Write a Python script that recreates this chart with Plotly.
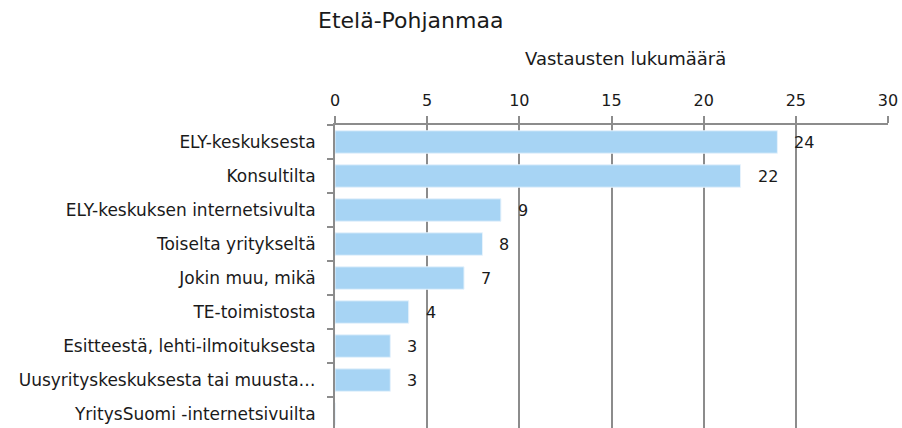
import plotly.graph_objects as go

# Data
categories = ['ELY-keskuksesta', 'Konsultilta', 'ELY-keskuksen internetsivulta',
              'Toiselta yritykseltä', 'Jokin muu, mikä', 'TE-toimistosta',
              'Esitteestä, lehti-ilmoituksesta',
              'Uusyrityskeskuksesta tai muusta…',
              'YritysSuomi -internetsivuilta']
counts = [24, 22, 9, 8, 7, 4, 3, 3, 0]
tick_values = [0, 5, 10, 15, 20, 25, 30]

font_name = 'DejaVu Sans'
grid_col = '#8c8c8c'
txt_col = '#1a1a1a'

W, H = 902, 428

fig = go.Figure()
fig.add_trace(go.Bar(
    x=counts,
    y=categories,
    orientation='h',
    width=0.66,
    marker=dict(color='#a7d4f4', line=dict(color='#e6f2fc', width=1)),
    hoverinfo='x+y',
))

# value labels next to the bar ends (zero is left unlabeled as in the original)
for c, v in zip(categories, counts):
    if v == 0:
        continue
    fig.add_annotation(x=v, y=c, text=str(v), showarrow=False,
                       xanchor='left', xshift=15,
                       font=dict(family=font_name, size=16, color=txt_col))

# axis title sits a bit right of the axis centre in the original
fig.add_annotation(text='Vastausten lukumäärä', xref='paper', yref='paper',
                   x=0.526, y=1, yshift=67, showarrow=False,
                   xanchor='center', yanchor='middle',
                   font=dict(family=font_name, size=18, color=txt_col))

fig.update_layout(
    width=W, height=H,
    margin=dict(l=335, r=14, t=125, b=0),
    paper_bgcolor='white', plot_bgcolor='white',
    showlegend=False,
    font=dict(family=font_name, size=16, color=txt_col),
    title=dict(text='Etelä-Pohjanmaa', x=318 / W, xanchor='left',
               xref='container', y=1 - 20 / H, yanchor='middle',
               pad=dict(l=0, r=0, t=0, b=0),
               font=dict(family=font_name, size=22, color=txt_col)),
)

fig.update_xaxes(
    side='top', range=[0, 30], tickvals=tick_values,
    showgrid=True, gridcolor=grid_col, gridwidth=2,
    showline=True, linecolor=grid_col, linewidth=2,
    ticks='outside', ticklen=7, tickcolor=grid_col, tickwidth=2,
    ticklabelstandoff=4,
    tickfont=dict(size=16),
    zeroline=False, automargin=False,
)

fig.update_yaxes(
    type='category', range=[8.41, -0.5],
    showline=True, linecolor=grid_col, linewidth=2,
    ticks='outside', ticklen=6, tickcolor=grid_col, tickwidth=2,
    tickson='boundaries', ticklabelstandoff=14,
    tickfont=dict(size=17),
    showgrid=False, automargin=False,
)

# drop the default page margin so the figure fills the window exactly
fig.write_html('out.html', config={'displayModeBar': False},
               post_script="document.body.style.margin='0';"
                           "document.body.style.overflow='hidden';")
